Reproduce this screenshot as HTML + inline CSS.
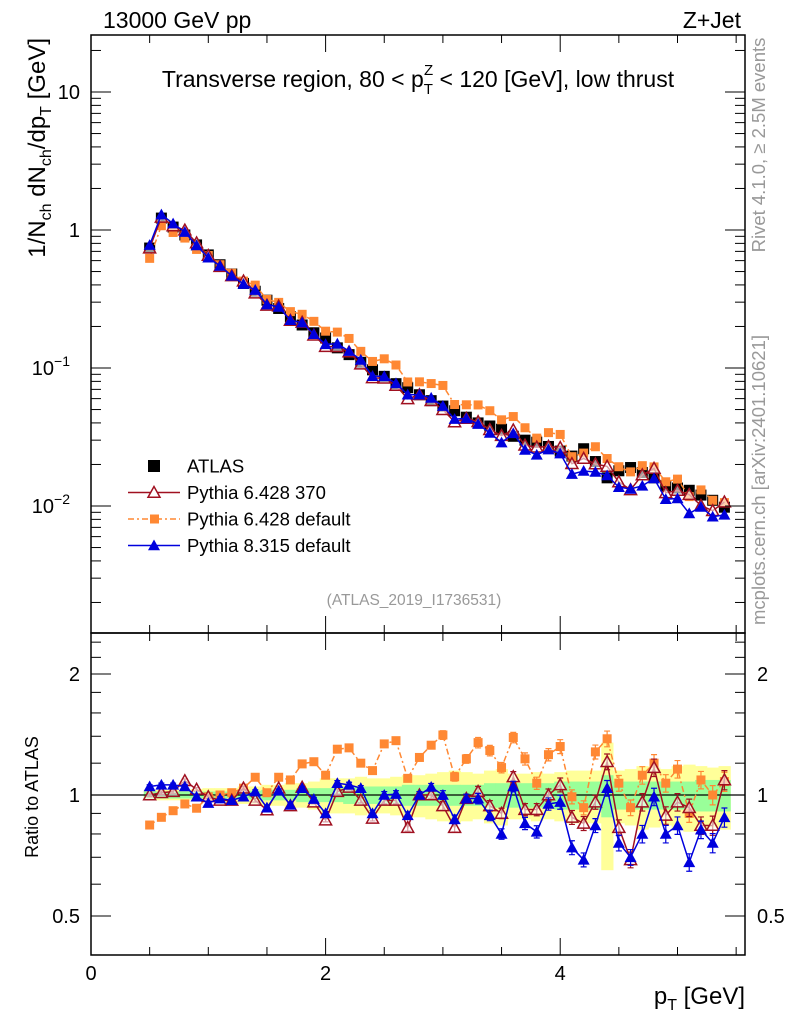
<!DOCTYPE html>
<html><head><meta charset="utf-8">
<style>
html,body{margin:0;padding:0;background:#fff;}
svg{display:block;font-family:"Liberation Sans",Arial,sans-serif;}
</style></head>
<body>
<svg id="chart" width="786" height="1024" viewBox="0 0 786 1024" xmlns="http://www.w3.org/2000/svg">
<text x="103" y="28" font-size="23">13000 GeV pp</text>
<text x="741" y="28" font-size="23" text-anchor="end">Z+Jet</text>
<text x="418" y="87" font-size="23" text-anchor="middle">Transverse region, 80 &lt; p<tspan font-size="15" dy="7">T</tspan><tspan font-size="15" dx="-9" dy="-19">Z</tspan><tspan dy="12"> &lt; 120 [GeV], low thrust</tspan></text>
<text transform="translate(45,38) rotate(-90)" font-size="24" text-anchor="end">1/N<tspan font-size="16" dy="6">ch</tspan><tspan dy="-6"> dN</tspan><tspan font-size="16" dy="6">ch</tspan><tspan dy="-6">/dp</tspan><tspan font-size="16" dy="6">T</tspan><tspan dy="-6"> [GeV]</tspan></text>
<text transform="translate(765,145) rotate(-90)" font-size="18.5" fill="#999" text-anchor="middle">Rivet 4.1.0, ≥ 2.5M events</text>
<text transform="translate(765,480) rotate(-90)" font-size="18.5" fill="#999" text-anchor="middle">mcplots.cern.ch [arXiv:2401.10621]</text>
<text x="414" y="605" font-size="15.5" fill="#999" text-anchor="middle">(ATLAS_2019_I1736531)</text>
<text transform="translate(38,797) rotate(-90)" font-size="18" text-anchor="middle">Ratio to ATLAS</text>
<text x="745" y="1004" font-size="24" text-anchor="end">p<tspan font-size="16" dy="6">T</tspan><tspan dy="-6"> [GeV]</tspan></text>
<g id="bands"></g><g id="marks"></g><g id="axes"></g><g id="legend"></g>
</svg>
<script>
const xs=[0.5,0.6,0.7,0.8,0.9,1.0,1.1,1.2,1.3,1.4,1.5,1.6,1.7,1.8,1.9,2.0,2.1,2.2,2.3,2.4,2.5,2.6,2.7,2.8,2.9,3.0,3.1,3.2,3.3,3.4,3.5,3.6,3.7,3.8,3.9,4.0,4.1,4.2,4.3,4.4,4.5,4.6,4.7,4.8,4.9,5.0,5.1,5.2,5.3,5.4];
const atlas=[0.74,1.22,1.05,0.92,0.78,0.66,0.56,0.48,0.41,0.36,0.31,0.27,0.235,0.205,0.18,0.165,0.14,0.125,0.11,0.097,0.087,0.077,0.072,0.064,0.058,0.053,0.049,0.044,0.04,0.038,0.036,0.032,0.03,0.029,0.027,0.025,0.023,0.026,0.021,0.016,0.018,0.019,0.0175,0.016,0.014,0.0135,0.013,0.012,0.011,0.0098];
const ratioRed=[1.0,1.013,1.02,1.085,1.033,0.99,0.97,0.97,1.04,0.97,0.918,1.04,0.94,1.045,0.96,0.866,1.02,1.045,0.97,0.875,0.97,0.97,0.83,1.0,1.0,0.94,0.83,0.98,1.02,0.94,0.9,1.11,0.92,0.92,1.0,1.06,0.88,0.85,0.96,1.21,0.83,0.69,0.96,1.17,0.89,0.96,0.93,0.84,0.84,1.09];
const ratioOrange=[0.842,0.88,0.914,0.95,0.927,0.99,1.0,1.013,1.04,1.107,1.013,1.107,1.09,1.195,1.21,1.12,1.30,1.31,1.20,1.15,1.34,1.365,1.10,1.24,1.33,1.41,1.11,1.23,1.35,1.29,1.17,1.39,1.23,1.07,1.26,1.32,0.99,0.93,1.28,1.38,1.07,0.93,1.12,1.2,1.07,1.16,0.9,1.09,1.0,1.08];
const ratioBlue=[1.05,1.06,1.06,1.05,0.99,0.955,0.98,0.97,0.99,1.02,0.93,1.025,0.945,1.04,0.977,0.90,1.07,1.06,1.04,0.90,1.0,1.005,0.89,1.0,1.047,1.0,0.87,0.98,0.98,0.89,0.8,1.05,0.85,0.81,0.95,0.96,0.74,0.69,0.84,1.04,0.76,0.7,0.8,0.99,0.8,0.84,0.68,0.82,0.76,0.88];
const bandStat=[0.02,0.02,0.02,0.02,0.02,0.02,0.02,0.02,0.02,0.025,0.03,0.03,0.03,0.04,0.04,0.04,0.04,0.05,0.05,0.05,0.05,0.05,0.06,0.06,0.06,0.06,0.06,0.06,0.06,0.07,0.07,0.07,0.07,0.07,0.07,0.08,0.08,0.08,0.08,0.12,0.08,0.08,0.08,0.08,0.08,0.08,0.08,0.09,0.09,0.09];
const bandTot=[0.03,0.03,0.03,0.03,0.035,0.04,0.04,0.04,0.05,0.05,0.06,0.06,0.07,0.07,0.08,0.1,0.1,0.1,0.11,0.1,0.1,0.11,0.12,0.12,0.13,0.14,0.15,0.14,0.13,0.15,0.16,0.13,0.13,0.14,0.13,0.14,0.15,0.15,0.15,0.35,0.15,0.16,0.18,0.17,0.16,0.18,0.19,0.18,0.17,0.18];
const errMC=[0.01,0.01,0.01,0.01,0.01,0.01,0.01,0.01,0.01,0.01,0.01,0.01,0.01,0.01,0.01,0.01,0.015,0.015,0.015,0.015,0.02,0.02,0.02,0.02,0.02,0.025,0.025,0.025,0.03,0.03,0.03,0.03,0.035,0.035,0.035,0.04,0.04,0.04,0.04,0.045,0.045,0.045,0.05,0.05,0.05,0.05,0.05,0.05,0.055,0.055];
const mainTicks=[{v:10,t:"10"},{v:1,t:"1"},{v:0.1,t:"10",e:"−1"},{v:0.01,t:"10",e:"−2"}];
const ratioTicks=[2,1,0.5];
const xTicks=[0,2,4];

const NS="http://www.w3.org/2000/svg";
const L=91,R=745,T=35,MB=633,RB=955;
const X=v=>91+117.3*v;
const Ym=v=>230-138*Math.log10(v);
const Yr=v=>795-402*Math.log10(v);
function mk(tag,attrs,parent){const e=document.createElementNS(NS,tag);for(const k in attrs)e.setAttribute(k,attrs[k]);parent.appendChild(e);return e;}
const gB=document.getElementById('bands'),gM=document.getElementById('marks'),gA=document.getElementById('axes'),gL=document.getElementById('legend');
const hw=5.86;
xs.forEach((x,i)=>{
  let r=mk('rect',{x:X(x)-hw,y:Yr(1+bandTot[i]),width:2*hw+0.5,height:Yr(1-bandTot[i])-Yr(1+bandTot[i]),fill:'#ffff99'},gB);
  
  
});
xs.forEach((x,i)=>{
  let r=mk('rect',{x:X(x)-hw,y:Yr(1+bandStat[i]),width:2*hw+0.5,height:Yr(1-bandStat[i])-Yr(1+bandStat[i]),fill:'#99ff99'},gB);
  
  
});
let one=mk('line',{x1:L,x2:R,y1:Yr(1),y2:Yr(1),stroke:'#000','stroke-width':1.3},gB);



function tri(cx,cy,s){return `${cx},${cy-s} ${cx-s},${cy+s*0.8} ${cx+s},${cy+s*0.8}`;}
function series(name,vals,color,kind,dash){
  const mainPts=xs.map((x,i)=>[X(x),Ym(atlas[i]*vals[i])]);
  const ratPts=xs.map((x,i)=>[X(x),Yr(vals[i])]);
  [[mainPts,'main'],[ratPts,'ratio']].forEach(([pts,p])=>{
    let pl=mk('polyline',{points:pts.map(q=>q.join(',')).join(' '),fill:'none',stroke:color,'stroke-width':1.5},gM);
    if(dash)pl.setAttribute('stroke-dasharray',dash);
    
    
    pts.forEach((q,i)=>{
      if(p==='ratio'){
        const e1=Yr(vals[i]*(1+errMC[i])),e2=Yr(vals[i]*(1-errMC[i]));
        let eb=mk('path',{d:`M${q[0]},${e1}V${e2}M${q[0]-3},${e1}h6M${q[0]-3},${e2}h6`,stroke:color,'stroke-width':1.2,fill:'none'},gM);
        
        
      }
      let m;
      if(kind==='sq') m=mk('rect',{x:q[0]-4.5,y:q[1]-4.5,width:9,height:9,fill:color},gM);
      else if(kind==='tri') m=mk('polygon',{points:tri(q[0],q[1],6),fill:color},gM);
      else m=mk('polygon',{points:tri(q[0],q[1],6),fill:'#fff','fill-opacity':0.6,stroke:color,'stroke-width':1.5},gM);
      
      
    });
  });
}
xs.forEach((x,i)=>{
  let m=mk('rect',{x:X(x)-5.5,y:Ym(atlas[i])-5.5,width:11,height:11,fill:'#000'},gM);
  
  
});
series('pythia6-default',ratioOrange,'#ff8833','sq','6,3,2,3');
series('pythia6-370',ratioRed,'#a01020','open');
series('pythia8-default',ratioBlue,'#0000dd','tri');

[[T,MB],[MB,RB]].forEach(([a,b],k)=>{
  let f=mk('rect',{x:L,y:a,width:R-L,height:b-a,fill:'none',stroke:'#000','stroke-width':1.5},gA);
  
  
});
for(let v=0;v<=5.5;v+=0.5){
  const maj=Math.abs(v%2)<1e-6, len=maj?17:8;
  [[MB,T],[RB,MB]].forEach(([b,t])=>{
    mk('line',{x1:X(v),x2:X(v),y1:b,y2:b-len,stroke:'#000','stroke-width':1},gA);
    mk('line',{x1:X(v),x2:X(v),y1:t,y2:t+len,stroke:'#000','stroke-width':1},gA);
  });
}
xTicks.forEach(v=>{
  let t=mk('text',{x:X(v),y:980,'font-size':20,'text-anchor':'middle'},gA);t.textContent=v;
  
  
});
for(let d=-3;d<=1;d++)for(let m=1;m<=9;m++){
  const v=m*Math.pow(10,d),y=Ym(v);if(y<T||y>MB)continue;
  const len=m===1?20:10;
  mk('line',{x1:L,x2:L+len,y1:y,y2:y,stroke:'#000'},gA);
  mk('line',{x1:R,x2:R-len,y1:y,y2:y,stroke:'#000'},gA);
}
mainTicks.forEach(o=>{
  let t=mk('text',{x:80,y:Ym(o.v)+7,'font-size':20,'text-anchor':'end'},gA);
  t.textContent=o.t;
  if(o.e){t.setAttribute('x',70);let s=mk('tspan',{'font-size':14,dy:-9},t);s.textContent=o.e;}
  
  
});
for(let v=0.4;v<=2.5;v+=0.1){
  const y=Yr(v);if(y<MB||y>RB)continue;
  const maj=[0.5,1,2].some(z=>Math.abs(z-v)<1e-6),len=maj?20:10;
  if(v>1.05 && Math.round(v*10)%2) continue;
  mk('line',{x1:L,x2:L+len,y1:y,y2:y,stroke:'#000'},gA);
  mk('line',{x1:R,x2:R-len,y1:y,y2:y,stroke:'#000'},gA);
}
ratioTicks.forEach(v=>{
  [[80,'end'],[757,'start']].forEach(([x,a])=>{
    let t=mk('text',{x:x,y:Yr(v)+7,'font-size':20,'text-anchor':a},gA);t.textContent=v;
    
    
  });
});
const leg=[['ATLAS','#000','bigsq'],['Pythia 6.428 370','#a01020','open'],['Pythia 6.428 default','#ff8833','sq'],['Pythia 8.315 default','#0000dd','tri']];
leg.forEach((e,i)=>{
  const y=466+i*26.5;
  const g=mk('g',{},gL);
  
  
  if(e[2]!=='bigsq'){let l=mk('line',{x1:128,x2:180,y1:y,y2:y,stroke:e[1],'stroke-width':1.5},g);if(e[2]==='sq')l.setAttribute('stroke-dasharray','6,3,2,3');}
  if(e[2]==='bigsq')mk('rect',{x:148,y:y-6,width:12,height:12,fill:'#000'},g);
  else if(e[2]==='sq')mk('rect',{x:150,y:y-4.5,width:9,height:9,fill:e[1]},g);
  else if(e[2]==='tri')mk('polygon',{points:tri(154,y,6),fill:e[1]},g);
  else mk('polygon',{points:tri(154,y,6),fill:'#fff',stroke:e[1],'stroke-width':1.5},g);
  let t=mk('text',{x:187,y:y+6.5,'font-size':18.5},g);t.textContent=e[0];
});
</script>
</body></html>
